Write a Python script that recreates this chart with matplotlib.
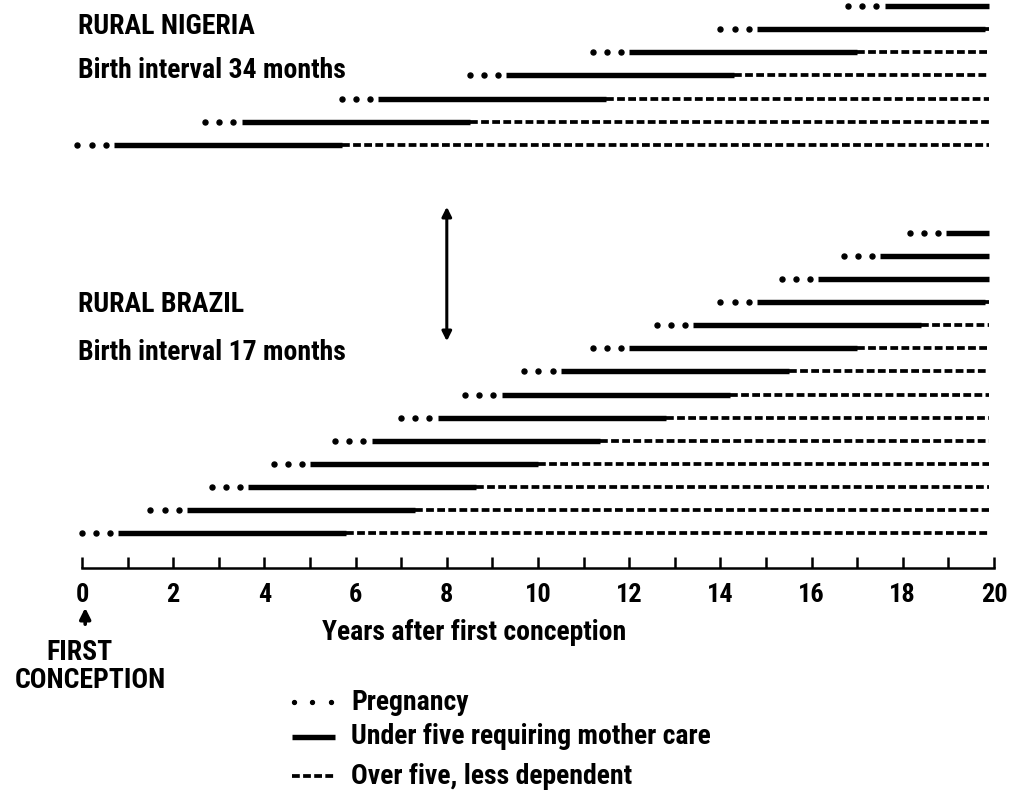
import matplotlib.pyplot as plt

plt.rcParams['font.family'] = ['Roboto Condensed', 'Liberation Sans Narrow', 'Roboto', 'DejaVu Sans']
plt.rcParams['font.weight'] = 'bold'
plt.rcParams['lines.scale_dashes'] = False

# year of birth of each child, years after first conception (oldest child first)
nigeria_births = [0.7, 3.5, 6.5, 9.3, 12.0, 14.8, 17.6]
brazil_births = [0.8, 2.3, 3.65, 5.0, 6.35, 7.8, 9.2, 10.5, 12.0, 13.4, 14.8, 16.15, 17.5, 18.95]
pregnancy_dots = [-0.8, -0.49, -0.18]   # dots drawn before each birth
under_five = 5.0
end_year = 19.9

years = list(range(0, 21))
legend_labels = ['Pregnancy', 'Under five requiring mother care', 'Over five, less dependent']

fig = plt.figure(figsize=(10.1, 8.08), dpi=100)
ax = fig.add_axes([82 / 1010, 0, 912 / 1010, 1])
ax.set_xlim(0, 20)
ax.set_ylim(808, 0)
ax.axis('off')

solid_kw = dict(color='black', lw=3.9, solid_capstyle='butt')
dash_kw = dict(color='black', lw=2.7, linestyle=(0, (5.6, 2.4)))


def draw_rows(births, y_bottom, gap):
    for i, b in enumerate(births):
        y = y_bottom - i * gap
        ax.plot([b + d for d in pregnancy_dots], [y] * 3, 'o', color='black', ms=3.6, clip_on=False)
        ax.plot([b, min(b + under_five, end_year)], [y, y], clip_on=False, **solid_kw)
        if b + under_five < end_year:
            ax.plot([b + under_five, end_year], [y, y], clip_on=False, **dash_kw)


draw_rows(nigeria_births, 145, 23.2)
draw_rows(brazil_births, 533, 23.08)

# axis with yearly ticks
ax.plot([0, 20], [568, 568], color='black', lw=1.8, clip_on=False)
ax.vlines(years, 557, 568, color='black', lw=1.8, clip_on=False)
for y in years[::2]:
    ax.text(y, 595, str(y), ha='center', va='center', fontsize=19)
ax.text(8.6, 632, 'Years after first conception', ha='center', va='center', fontsize=20)

ax.annotate('', xy=(0.07, 605), xytext=(0.07, 627),
            arrowprops=dict(arrowstyle='-|>', color='black', lw=2.6, mutation_scale=16))
ax.text(-0.05, 652, 'FIRST', ha='center', va='center', fontsize=20)
ax.text(0.18, 680, 'CONCEPTION', ha='center', va='center', fontsize=20)

# panel labels
ax.text(-0.09, 26, 'RURAL NIGERIA', ha='left', va='center', fontsize=20)
ax.text(-0.09, 70, 'Birth interval 34 months', ha='left', va='center', fontsize=20)
ax.text(-0.09, 305, 'RURAL BRAZIL', ha='left', va='center', fontsize=20)
ax.text(-0.09, 352, 'Birth interval 17 months', ha='left', va='center', fontsize=20)

ax.annotate('', xy=(8.0, 204), xytext=(8.0, 344),
            arrowprops=dict(arrowstyle='<|-|>', color='black', lw=2.2, mutation_scale=14))

# legend
x0, x1 = 4.6, 5.55
ax.plot([x0 + 0.05, x0 + 0.45, x0 + 0.85], [702] * 3, 'o', color='black', ms=2.8)
ax.plot([x0, x1], [737, 737], **solid_kw)
ax.plot([x0, x1], [776, 776], **dash_kw)
for yy, lab in zip([702, 737, 776], legend_labels):
    ax.text(5.9, yy, lab, ha='left', va='center', fontsize=20)

fig.savefig('out.png', dpi=100)
